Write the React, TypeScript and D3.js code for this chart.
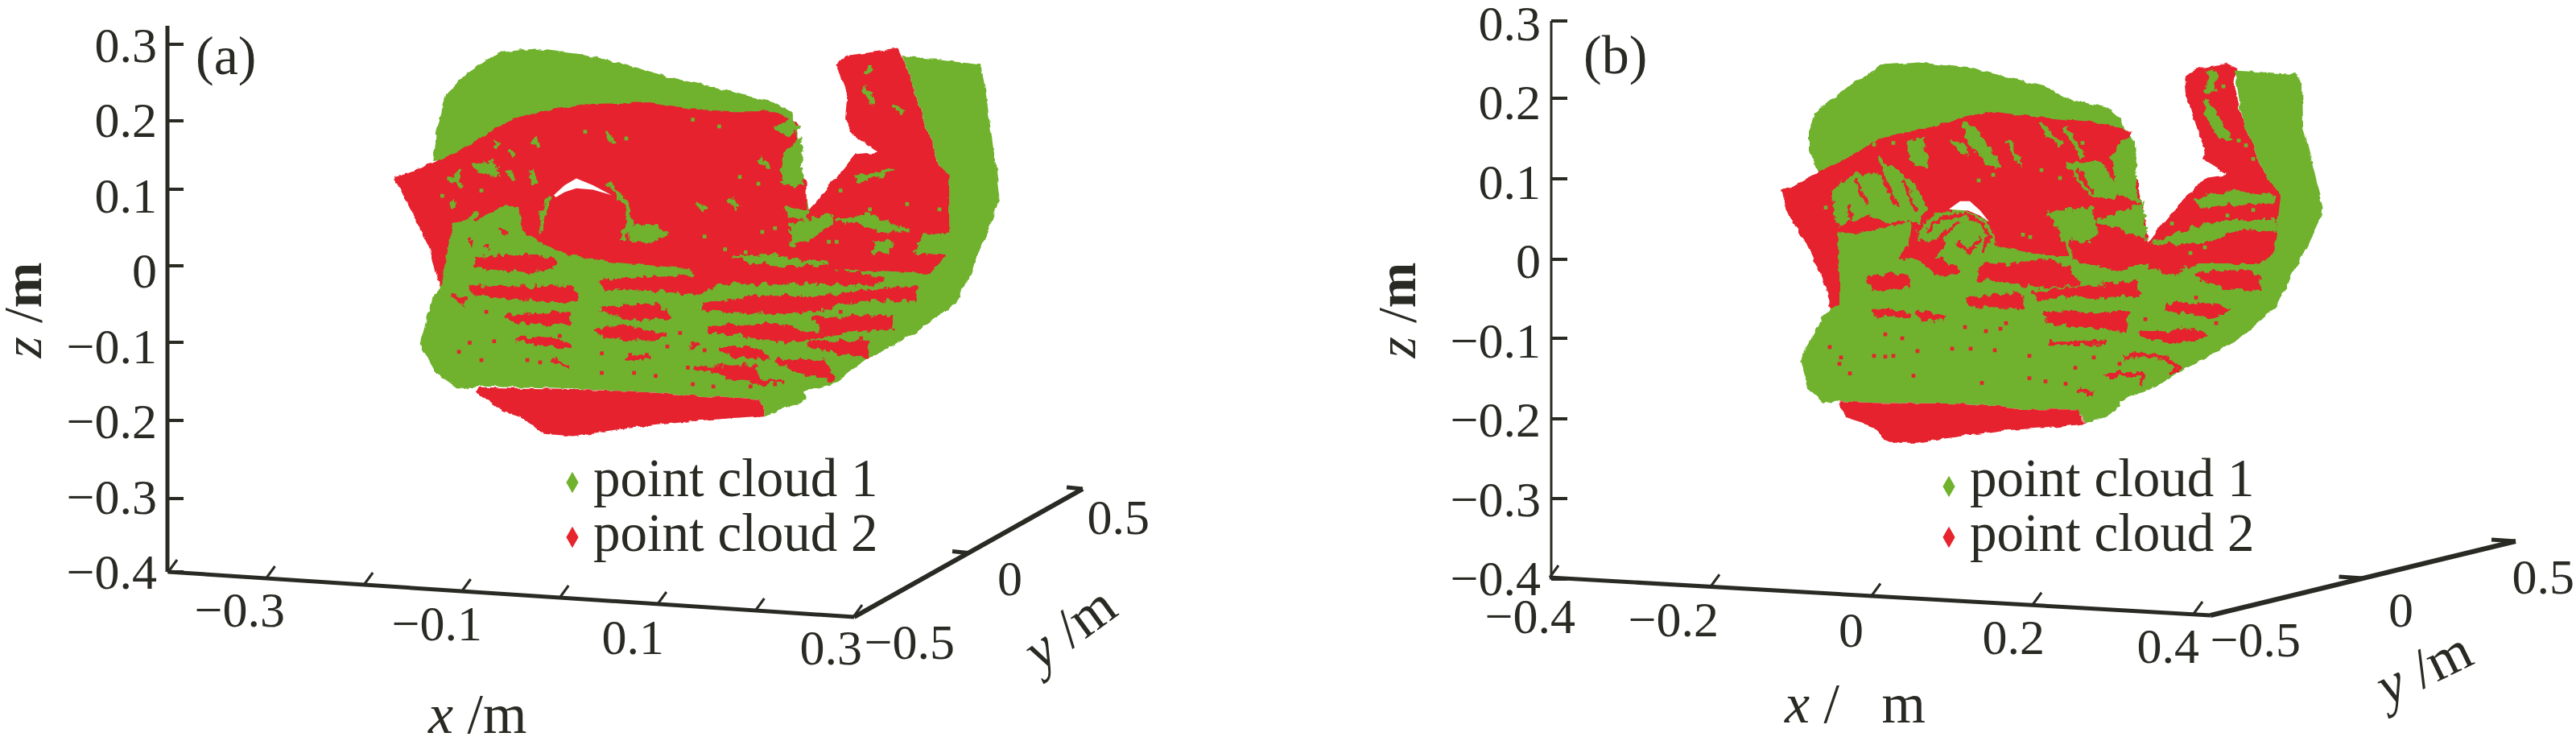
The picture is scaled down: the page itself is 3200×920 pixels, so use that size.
import React from 'react';
import * as d3 from 'd3';

type Pt = [number, number];

// cloud outlines and patches are projected [x, z] readings in mm
const legendLabels = ['point cloud 1', 'point cloud 2'];
const GREEN = '#70b22d';
const RED = '#e5242e';
const INK = '#2a2a24';

const zTicks = [-0.4, -0.3, -0.2, -0.1, 0, 0.1, 0.2, 0.3];
const xTicksA = [-0.4, -0.3, -0.2, -0.1, 0, 0.1, 0.2, 0.3];
const xLabelsA = [-0.3, -0.1, 0.1, 0.3];
const xTicksB = [-0.4, -0.2, 0, 0.2, 0.4];
const xLabelsB = [-0.4, -0.2, 0, 0.2, 0.4];
const yTicks = [0, 0.5];
const yLabels = [-0.5, 0, 0.5];

const topA: Pt[] = [[-130,145],[-126,184],[-116,234],[-97,259],[-63,289],[-26,294],[21,287],[67,273],[117,255],[176,237],[218,223],[237,209],[243,184],[243,127],[250,113],[254,77],[92,127],[-30,160]];
const redA: Pt[] = [[-169,123],[-151,131],[-130,143],[-101,159],[-76,180],[-46,202],[-17,212],[34,221],[93,223],[136,214],[177,211],[220,211],[243,195],[241,163],[245,138],[252,116],[252,77],[262,91],[283,123],[302,154],[325,157],[300,180],[291,202],[293,234],[283,275],[293,285],[346,294],[352,277],[367,220],[388,138],[401,123],[401,27],[384,-5],[363,-51],[337,-80],[312,-112],[274,-151],[93,-87],[-122,-23],[-134,34],[-151,77]];
const bandA: Pt[] = [[350,285],[430,273],[435,241],[443,163],[450,99],[439,56],[418,-8],[405,-44],[363,-83],[312,-119],[279,-151],[300,-110],[378,-5],[398,27],[398,123],[388,138],[367,220],[352,277]];
const bodyA: Pt[] = [[-122,-23],[-109,63],[-84,68],[-56,86],[-42,84],[-39,52],[-16,35],[9,20],[60,10],[136,2],[220,-8],[287,1],[384,-5],[405,-44],[363,-83],[312,-119],[279,-151],[249,-161],[252,-172],[228,-184],[209,-193],[209,-181],[203,-172],[72,-160],[-80,-154],[-103,-158],[-126,-136],[-143,-97],[-130,-37]];
const bottomA: Pt[] = [[-82,-156],[72,-160],[203,-172],[209,-181],[209,-193],[136,-200],[60,-211],[13,-220],[-16,-217],[-42,-193],[-58,-186],[-86,-161]];
const moonA: Pt[] = [[-6,100],[5,113],[17,122],[34,113],[53,100],[34,107],[17,109],[5,104],[-4,97]];
const greenPatchesA: Pt[][] = [
  [[72,59],[98,59],[110,49],[93,38],[72,40]],
  [[237,59],[275,74],[279,63],[254,42],[237,35]],
  [[283,67],[317,74],[355,52],[330,52],[304,63]],
  [[372,45],[401,49],[403,24],[363,24]],
  [[228,152],[245,173],[247,113],[228,116]],
  [[237,200],[220,189],[233,177],[243,188]],
  [[300,124],[342,133],[330,127],[304,118]],
  [[230,84],[254,77],[252,67],[232,74]],
  [[-88,141],[-67,145],[-63,127],[-84,131]],
  [[178,17],[220,20],[241,13],[275,10],[241,6],[203,10]],
  [[321,38],[338,38],[338,24],[321,24]],
];
const greenStreaksA: Pt[][] = [
  [[-18,49],[-18,77],[-8,99]],
  [[49,116],[68,88],[72,63],[64,41]],
  [[317,273],[313,259]],
  [[311,245],[321,220]],
  [[342,220],[350,209]],
  [[47,184],[55,168]],
  [[-25,175],[-23,163]],
  [[-63,170],[-65,164]],
  [[-52,161],[-46,152]],
  [[-101,134],[-107,120]],
  [[140,90],[148,79]],
  [[203,147],[214,136]],
  [[173,95],[182,83]],
  [[-111,124],[-101,111]],
  [[-54,134],[-46,120]],
  [[-29,134],[-25,113]],
  [[-97,59],[-84,77]],
  [[-67,74],[-56,84]],
  [[-107,81],[-111,92]],
];
const redPatchesA: Pt[][] = [
  [[-84,15],[-25,19],[-4,10],[-25,0],[-54,3],[-84,6]],
  [[-90,-23],[-63,-24],[-25,-24],[13,-23],[17,-37],[-4,-40],[-29,-37],[-63,-33],[-84,-31]],
  [[43,-15],[85,-12],[136,-8],[165,-8],[144,-30],[93,-23],[47,-23]],
  [[136,2],[220,2],[283,-1],[330,-12],[317,-17],[262,-15],[199,-15],[152,-15]],
  [[148,-47],[199,-37],[262,-37],[363,-23],[363,-37],[312,-37],[258,-51],[220,-55],[148,-51]],
  [[43,-51],[102,-47],[110,-62],[68,-62]],
  [[-54,-62],[9,-58],[9,-69],[-33,-69]],
  [[262,-65],[338,-62],[338,-76],[270,-81]],
  [[152,-78],[220,-73],[262,-87],[228,-92],[178,-83]],
  [[39,-81],[60,-76],[106,-87],[102,-90],[51,-87]],
  [[254,-96],[313,-97],[313,-112],[275,-105]],
  [[165,-105],[203,-105],[211,-115],[178,-112]],
  [[224,-122],[270,-122],[279,-144],[245,-133]],
  [[157,-129],[199,-129],[203,-144],[169,-140]],
  [[-42,-92],[-12,-92],[9,-100],[-12,-97]],
];
const redStreaksA: Pt[][] = [
  [[131,-105],[142,-96]],
  [[135,-129],[178,-133]],
  [[68,-117],[93,-115]],
  [[-8,-117],[9,-128]],
  [[195,-149],[228,-147]],
  [[258,-87],[287,-83]],
  [[-107,-33],[-96,-46]],
  [[-92,42],[-88,34]],
  [[-63,56],[-54,49]],
  [[-78,34],[-72,28]],
];
const redDotsA: Pt[] = [[-103,-108],[-80,-119],[-67,-94],[-92,-96],[-33,-119],[-20,-122],[-4,-120],[43,-110],[72,-112],[89,-112],[43,-136],[76,-136],[98,-140],[136,-97],[148,-106],[131,-129],[136,-151],[157,-154],[195,-154],[220,-151],[110,-101],[123,-83],[-109,-33],[-96,-37],[0,-87],[-75,-55],[287,-55],[308,-90]];
const greenDotsA: Pt[] = [[26,184],[51,177],[68,175],[136,200],[163,191],[184,124],[203,115],[207,51],[220,56],[148,45],[287,106],[355,88],[388,81],[317,81],[275,38],[283,38],[330,35],[169,28],[190,24],[-120,99],[-113,122],[-80,106]];

const topB: Pt[] = [[-77,161],[-70,184],[-29,218],[13,245],[59,248],[123,241],[188,225],[216,218],[243,203],[294,191],[310,177],[313,169],[327,147],[327,103],[336,73],[340,22],[142,63],[-66,110],[-77,137]];
const redB: Pt[] = [[-113,86],[-93,96],[-66,110],[-33,127],[13,154],[73,167],[119,181],[151,186],[211,179],[271,174],[308,167],[324,159],[303,130],[331,100],[333,80],[340,49],[343,22],[386,76],[414,103],[442,107],[410,127],[414,140],[403,167],[391,208],[389,231],[405,240],[442,248],[456,241],[449,228],[460,177],[488,110],[513,80],[504,9],[488,-31],[479,-35],[280,-45],[-52,-61],[-57,-35],[-66,-12],[-82,22],[-103,56]];
const bandB: Pt[] = [[451,238],[527,233],[535,221],[536,167],[562,63],[543,22],[520,-22],[502,-59],[456,-99],[414,-123],[377,-143],[350,-160],[400,-60],[500,9],[508,80],[488,110],[460,177]];
const bodyB: Pt[] = [[-43,36],[-20,33],[50,49],[45,5],[59,-1],[151,19],[216,5],[253,5],[257,-5],[511,-5],[543,22],[520,-22],[502,-59],[456,-99],[414,-123],[377,-143],[350,-160],[308,-177],[310,-184],[290,-197],[267,-205],[257,-194],[257,-187],[188,-187],[119,-180],[3,-179],[-40,-177],[-59,-179],[-80,-160],[-89,-126],[-73,-93],[-61,-72],[-52,-61],[-40,-56],[-40,-12]];
const bottomB: Pt[] = [[-40,-177],[3,-179],[119,-180],[188,-187],[257,-187],[257,-195],[267,-205],[234,-209],[160,-214],[54,-229],[22,-229],[-1,-207],[-33,-197]];
const moonB: Pt[] = [[96,64],[110,74],[122,74],[135,62],[146,48],[134,56],[120,62],[108,63]];
const greenPatchesB: Pt[][] = [
  [[-47,86],[-20,107],[13,107],[22,120],[50,96],[68,66],[59,49],[22,49],[-1,56],[-43,46]],
  [[114,171],[128,167],[160,117],[147,120],[123,144]],
  [[100,150],[114,147],[119,134],[110,135]],
  [[45,147],[63,154],[68,117],[50,123]],
  [[243,120],[280,123],[308,90],[303,76],[271,83]],
  [[308,150],[327,147],[327,96],[331,73],[308,83],[299,123]],
  [[336,70],[340,26],[303,43],[280,49],[299,56]],
  [[220,59],[271,66],[280,36],[248,2],[234,36]],
  [[59,36],[77,56],[110,63],[142,49],[153,22],[142,2],[73,-1],[59,12]],
  [[405,76],[447,86],[502,80],[502,73],[442,70],[409,66]],
  [[345,19],[377,32],[419,46],[456,49],[502,49],[502,36],[456,42],[433,29],[396,19],[350,9]],
  [[419,235],[428,235],[426,211],[417,211]],
  [[414,201],[423,191],[447,150],[433,154],[416,181]],
];
const greenStreaksB: Pt[][] = [
  [[207,174],[234,144]],
  [[170,150],[185,120]],
  [[10,130],[20,110]],
  [[240,165],[262,130]],
  [[280,110],[292,90]],
];
const redPatchesB: Pt[][] = [
  [[-3,-23],[43,-20],[45,-32],[3,-35]],
  [[133,-8],[188,-5],[220,-2],[243,-12],[257,-29],[206,-32],[160,-22],[135,-22]],
  [[36,5],[54,22],[86,22],[77,2],[105,-12],[86,-18],[59,2]],
  [[248,22],[280,19],[327,2],[308,-12],[276,-2],[253,2]],
  [[345,19],[410,15],[419,5],[373,-15],[350,-8]],
  [[405,-18],[465,-15],[481,-22],[479,-35],[437,-32]],
  [[202,-42],[234,-39],[280,-35],[327,-29],[331,-42],[280,-45],[239,-42],[206,-49]],
  [[119,-50],[165,-45],[183,-45],[188,-59],[160,-56],[128,-56]],
  [[368,-57],[419,-56],[440,-64],[419,-69],[368,-61]],
  [[216,-66],[280,-69],[317,-66],[313,-86],[280,-82],[220,-77]],
  [[336,-93],[400,-89],[414,-96],[368,-101],[345,-96]],
  [[3,-64],[40,-66],[45,-69],[8,-67]],
  [[57,-66],[91,-72],[63,-74]],
];
const redStreaksB: Pt[][] = [
  [[68,36],[87,52],[114,58],[137,46],[146,26],[137,9]],
  [[82,22],[96,39],[110,49]],
  [[105,26],[119,9],[137,29]],
  [[315,-123],[336,-118],[368,-123],[382,-135],[373,-141]],
  [[290,-146],[308,-143],[336,-143],[333,-160]],
  [[257,-163],[276,-168]],
  [[220,-104],[290,-103]],
  [[-20,100],[-5,70]],
  [[10,115],[30,70]],
  [[40,100],[55,60]],
  [[-30,70],[-25,50]],
  [[255,115],[275,85]],
];
const redDotsB: Pt[] = [[-52,-109],[-38,-122],[-40,-130],[-27,-142],[3,-120],[17,-121],[27,-120],[52,-145],[57,-114],[100,-111],[123,-111],[153,-113],[137,-154],[196,-148],[196,-120],[216,-152],[241,-155],[253,-135],[276,-122],[308,-130],[17,-93],[38,-98],[116,-84],[142,-89],[160,-86],[167,-79],[403,-47],[428,-79],[340,-74]];
const greenDotsB: Pt[] = [[3,145],[27,147],[133,100],[151,107],[179,127],[211,113],[234,103],[248,157],[262,147],[437,218],[456,150],[465,144],[474,127],[442,56],[474,63],[373,46],[414,16],[396,9],[188,32],[197,29],[-57,66]];

const fmt = (v: number) => (v === 0 ? '0' : (v < 0 ? '\u2212' : '') + Math.abs(v).toFixed(1));

const Cloud = ({ sx, sz, top, red, band, body, bottom, moon, greenPatches, greenStreaks, redPatches, redStreaks, redDots, greenDots }: any) => {
  const line = d3.line<Pt>().x(d => sx(d[0])).y(d => sz(d[1]));
  const area = (p: Pt[]) => line.curve(d3.curveLinearClosed)(p) as string;
  const path = (p: Pt[]) => line.curve(d3.curveLinear)(p) as string;
  const dot = d3.symbol().type(d3.symbolSquare).size(22)() as string;
  return (
    <g>
      <g filter="url(#edge)">
        <path d={area(top)} fill={GREEN} />
        <path d={area(red)} fill={RED} />
        <path d={area(band)} fill={GREEN} />
        <path d={area(body)} fill={GREEN} />
        <path d={area(bottom)} fill={RED} />
      </g>
      <g filter="url(#rough)" strokeLinejoin="round">
        {greenPatches.map((p: Pt[], i: number) => <path key={i} d={area(p)} fill={GREEN} stroke={GREEN} strokeWidth={3} />)}
        {greenStreaks.map((p: Pt[], i: number) => <path key={i} d={path(p)} fill="none" stroke={GREEN} strokeWidth={6} />)}
        {redPatches.map((p: Pt[], i: number) => <path key={i} d={area(p)} fill={RED} stroke={RED} strokeWidth={6} />)}
        {redStreaks.map((p: Pt[], i: number) => <path key={i} d={path(p)} fill="none" stroke={RED} strokeWidth={5} />)}
      </g>
      {redDots.map((d: Pt, i: number) => <path key={i} d={dot} fill={RED} transform={`translate(${sx(d[0])},${sz(d[1])})`} />)}
      {greenDots.map((d: Pt, i: number) => <path key={i} d={dot} fill={GREEN} transform={`translate(${sx(d[0])},${sz(d[1])})`} />)}
      <path d={area(moon)} fill="#fff" />
    </g>
  );
};

const Panel = ({ cfg, cloud }: any) => {
  const { zTickY, zLabelY, zX, xTicks, xLabels, xScale, xAxisY, xLabelX, xLabelY, yAxisX, yAxisY, yLabelX, yLabelY, sx, sz, axisW } = cfg;
  const diamond = d3.symbol().type(d3.symbolDiamond).size(200)() as string;
  return (
    <g fontFamily="'Liberation Serif', serif" fontSize={62} fill={INK}>
      <Cloud sx={sx} sz={sz} {...cloud} />

      {/* z axis */}
      <line x1={zX} x2={zX} y1={cfg.zTop} y2={zTickY(-0.4)} stroke={INK} strokeWidth={axisW} />
      {zTicks.map(t => (
        <g key={t}>
          <line x1={zX} x2={zX + 20} y1={zTickY(t)} y2={zTickY(t)} stroke={INK} strokeWidth={4} />
          <text x={zX - 13} y={zLabelY(t)} textAnchor="end">{fmt(t)}</text>
        </g>
      ))}

      {/* x axis */}
      <line x1={xScale.range()[0]} x2={yAxisX(-0.5)} y1={xAxisY.range()[0]} y2={yAxisY(-0.5)} stroke={INK} strokeWidth={5} />
      {xTicks.map((t: number) => (
        <line key={t} x1={xScale(t)} x2={xScale(t) + 11} y1={xAxisY(t)} y2={xAxisY(t) - 15} stroke={INK} strokeWidth={3} />
      ))}
      {xLabels.map((t: number) => (
        <text key={t} x={xLabelX(t)} y={xLabelY(t)} textAnchor="end">{fmt(t)}</text>
      ))}

      {/* y axis */}
      <line x1={yAxisX(-0.5)} x2={yAxisX(0.5)} y1={yAxisY(-0.5)} y2={yAxisY(0.5)} stroke={INK} strokeWidth={6} />
      {yTicks.map(t => (
        <line key={t} x1={yAxisX(t)} x2={yAxisX(t) - cfg.yTickLen} y1={yAxisY(t)} y2={yAxisY(t) - 2} stroke={INK} strokeWidth={5} />
      ))}
      {yLabels.map(t => (
        <text key={t} x={yLabelX(t)} y={yLabelY(t)} textAnchor="end">{fmt(t)}</text>
      ))}

      {/* axis titles */}
      <text transform={`translate(${cfg.zTitle[0]},${cfg.zTitle[1]}) rotate(-90)`} textAnchor="middle" fontSize={68}>
        <tspan fontStyle="italic">z</tspan> /<tspan fontWeight="bold">m</tspan>
      </text>
      <text x={cfg.xTitle[0]} y={cfg.xTitle[1]} xmlSpace="preserve" fontSize={70}>
        <tspan fontStyle="italic">x</tspan>{cfg.xTitleGap}m
      </text>
      <text transform={`translate(${cfg.yTitle[0]},${cfg.yTitle[1]}) rotate(${cfg.yTitle[2]})`} textAnchor="middle" fontSize={70}>
        <tspan fontStyle="italic">y</tspan> /m
      </text>

      {/* legend */}
      {legendLabels.map((l, i) => (
        <g key={l}>
          <path d={diamond} fill={i === 0 ? GREEN : RED} transform={`translate(${cfg.legendSym},${cfg.legendSymY[i]})`} />
          <text x={cfg.legendX} y={cfg.legendY[i]} fontSize={67}>{l}</text>
        </g>
      ))}
      <text x={cfg.tag[0]} y={cfg.tag[1]} fontSize={68}>{cfg.tag[2]}</text>
    </g>
  );
};

const cfgA = {
  zX: 208, zTop: 32, axisW: 5, yTickLen: 20,
  zTickY: d3.scaleLinear().domain(zTicks).range([710, 619, 522, 425, 330, 235, 150, 55]),
  zLabelY: d3.scaleLinear().domain([-0.4, 0.3]).range([731, 77]),
  xTicks: xTicksA, xLabels: xLabelsA,
  xScale: d3.scaleLinear().domain([-0.4, 0.3]).range([209, 1060]),
  xAxisY: d3.scaleLinear().domain([-0.4, 0.3]).range([710, 766]),
  xLabelX: d3.scaleLinear().domain(xLabelsA).range([354, 599, 825, 1071]),
  xLabelY: d3.scaleLinear().domain(xLabelsA).range([778, 795, 812, 825]),
  yAxisX: d3.scaleLinear().domain([-0.5, 0.5]).range([1061, 1345]),
  yAxisY: d3.scaleLinear().domain([-0.5, 0.5]).range([766, 607]),
  yLabelX: d3.scaleLinear().domain(yLabels).range([1186, 1270, 1428]),
  yLabelY: d3.scaleLinear().domain(yLabels).range([818, 739, 663]),
  sx: d3.scaleLinear().domain([-400, 300]).range([209, 1060]),
  sz: d3.scaleLinear().domain([-400, 300]).range([710, 55]),
  zTitle: [51, 385], xTitle: [532, 910], xTitleGap: ' /', yTitle: [1342, 798, -36],
  legendSym: 711, legendSymY: [599, 667], legendX: 737, legendY: [616, 684],
  tag: [243, 92, '(a)'],
};

const cfgB = {
  zX: 1927, zTop: 26, axisW: 3, yTickLen: 30,
  zTickY: d3.scaleLinear().domain(zTicks).range([719, 619, 520, 420, 322, 222, 122, 26]),
  zLabelY: d3.scaleLinear().domain([-0.4, 0.3]).range([739, 50]),
  xTicks: xTicksB, xLabels: xLabelsB,
  xScale: d3.scaleLinear().domain([-0.4, 0.4]).range([1925, 2725]),
  xAxisY: d3.scaleLinear().domain([-0.4, 0.4]).range([717, 762]),
  xLabelX: d3.scaleLinear().domain(xLabelsB).range([1957, 2135, 2315, 2540, 2732]),
  xLabelY: d3.scaleLinear().domain(xLabelsB).range([786, 790, 803, 812, 823]),
  yAxisX: d3.scaleLinear().domain([-0.5, 0.5]).range([2746, 3125]),
  yAxisY: d3.scaleLinear().domain([-0.5, 0.5]).range([764, 672]),
  yLabelX: d3.scaleLinear().domain(yLabels).range([2858, 2998, 3198]),
  yLabelY: d3.scaleLinear().domain(yLabels).range([815, 778, 737]),
  sx: d3.scaleLinear().domain([-400, 400]).range([1925, 2725]),
  sz: d3.scaleLinear().domain([-400, 300]).range([719, 26]),
  zTitle: [1758, 385], xTitle: [2217, 897], xTitleGap: ' /   ', yTitle: [3021, 850, -26],
  legendSym: 2421, legendSymY: [604, 667], legendX: 2447, legendY: [616, 684],
  tag: [1967, 91, '(b)'],
};

const cloudA = { top: topA, red: redA, band: bandA, body: bodyA, bottom: bottomA, moon: moonA, greenPatches: greenPatchesA, greenStreaks: greenStreaksA, redPatches: redPatchesA, redStreaks: redStreaksA, redDots: redDotsA, greenDots: greenDotsA };
const cloudB = { top: topB, red: redB, band: bandB, body: bodyB, bottom: bottomB, moon: moonB, greenPatches: greenPatchesB, greenStreaks: greenStreaksB, redPatches: redPatchesB, redStreaks: redStreaksB, redDots: redDotsB, greenDots: greenDotsB };

export default function App() {
  return (
    <svg width={3200} height={920} style={{ position: 'absolute', left: 0, top: 0, display: 'block', background: '#fff' }}>
      <defs>
        <filter id="edge" filterUnits="userSpaceOnUse" x="0" y="0" width="3200" height="920">
          <feTurbulence type="fractalNoise" baseFrequency="0.09" numOctaves="2" seed="3" />
          <feDisplacementMap in="SourceGraphic" scale="6" xChannelSelector="R" yChannelSelector="G" />
        </filter>
        <filter id="rough" filterUnits="userSpaceOnUse" x="0" y="0" width="3200" height="920">
          <feTurbulence type="fractalNoise" baseFrequency="0.11" numOctaves="3" seed="8" />
          <feDisplacementMap in="SourceGraphic" scale="12" xChannelSelector="R" yChannelSelector="G" />
        </filter>
      </defs>
      <Panel cfg={cfgA} cloud={cloudA} />
      <Panel cfg={cfgB} cloud={cloudB} />
    </svg>
  );
}
